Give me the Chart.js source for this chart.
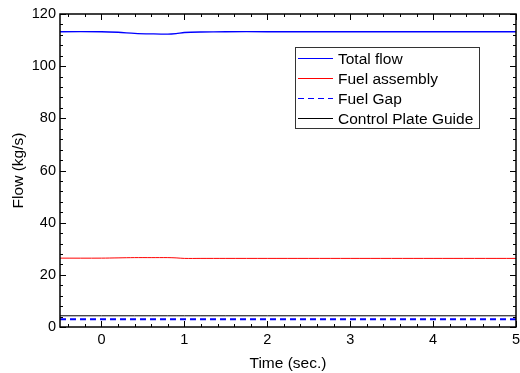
<!DOCTYPE html>
<html>
<head>
<meta charset="utf-8">
<script src="https://cdn.jsdelivr.net/npm/chart.js@4.4.0/dist/chart.umd.min.js"></script>
<style>
  html, body { margin: 0; padding: 0; background: #fff; }
  #wrap { width: 520px; height: 373px; }
</style>
</head>
<body>
<div id="wrap"><canvas id="flowChart" width="520" height="373"></canvas></div>
<script>
// values
const time = [-0.5, 0, 0.2, 0.4, 0.6, 0.8, 0.9, 1.0, 1.2, 1.5, 2, 3, 4, 5]
const totalFlow = [113.2, 113.2, 113.0, 112.6, 112.4, 112.3, 112.5, 112.9, 113.1, 113.2, 113.2, 113.2, 113.2, 113.2]
const fuelAssembly = [26.4, 26.4, 26.5, 26.6, 26.6, 26.6, 26.5, 26.3, 26.3, 26.3, 26.3, 26.3, 26.3, 26.3]
const fuelGap = [3.0, 3.0, 3.0, 3.0, 3.0, 3.0, 3.0, 3.0, 3.0, 3.0, 3.0, 3.0, 3.0, 3.0]
const controlPlateGuide = [4.3, 4.3, 4.3, 4.3, 4.3, 4.3, 4.3, 4.3, 4.3, 4.3, 4.3, 4.3, 4.3, 4.3]
const xTickLabels = [0, 1, 2, 3, 4, 5]
const yTickLabels = [0, 20, 40, 60, 80, 100, 120]

const FONT = "'Liberation Sans', Arial, sans-serif"

function pts(ys) {
  return time.map((t, i) => ({ x: t, y: ys[i] }))
}

// ticks pointing into the plot, like the original
const inwardTicks = {
  id: 'inwardTicks',
  afterDraw(chart) {
    const { ctx, chartArea: a, scales } = chart
    ctx.save()
    ctx.strokeStyle = '#000'
    ctx.lineWidth = 1
    ctx.beginPath()
    for (let v = -0.4; v <= 5.001; v += 0.2) {
      const x = Math.round(scales.x.getPixelForValue(v)) + 0.5
      const major = Math.abs(v - Math.round(v)) < 0.01
      const len = major ? 6 : 3
      ctx.moveTo(x, a.bottom); ctx.lineTo(x, a.bottom - len)
      ctx.moveTo(x, a.top); ctx.lineTo(x, a.top + len)
    }
    for (let v = 0; v <= 120; v += 4) {
      const y = Math.round(scales.y.getPixelForValue(v)) + 0.5
      const major = v % 20 === 0
      const len = major ? 6 : 3
      ctx.moveTo(a.left, y); ctx.lineTo(a.left + len, y)
      ctx.moveTo(a.right, y); ctx.lineTo(a.right - len, y)
    }
    ctx.stroke()
    ctx.lineWidth = 1.5
    ctx.strokeRect(a.left, a.top, a.right - a.left, a.bottom - a.top)
    ctx.restore()
  }
}

// boxed legend inside the plot
const boxLegend = {
  id: 'boxLegend',
  afterDraw(chart) {
    const ctx = chart.ctx
    const left = 295, top = 47, w = 184, rowH = 20
    const sets = chart.data.datasets
    ctx.save()
    ctx.strokeStyle = '#333'
    ctx.lineWidth = 1
    ctx.strokeRect(left + 0.5, top + 0.5, w, rowH * sets.length + 1)
    ctx.font = '15.5px ' + FONT
    ctx.textBaseline = 'middle'
    sets.forEach((ds, i) => {
      const y = top + 11 + i * rowH + 0.5
      ctx.strokeStyle = ds.borderColor
      ctx.lineWidth = ds.legendWidth || 1
      ctx.setLineDash(ds.borderDash || [])
      ctx.beginPath()
      ctx.moveTo(left + 3, y); ctx.lineTo(left + 38, y)
      ctx.stroke()
      ctx.setLineDash([])
      ctx.fillStyle = '#000'
      ctx.fillText(ds.label, left + 43, y + 1)
    })
    ctx.restore()
  }
}

new Chart(document.getElementById('flowChart'), {
  type: 'line',
  data: {
    datasets: [
      { label: 'Total flow', data: pts(totalFlow), borderColor: '#0000ff', borderWidth: 1.3, tension: 0.3 },
      { label: 'Fuel assembly', data: pts(fuelAssembly), borderColor: '#ff0000', borderWidth: 1, tension: 0.3 },
      { label: 'Fuel Gap', data: pts(fuelGap), borderColor: '#0000ff', borderWidth: 2, borderDash: [6, 4], legendWidth: 1 },
      { label: 'Control Plate Guide', data: pts(controlPlateGuide), borderColor: '#000000', borderWidth: 1 }
    ]
  },
  options: {
    responsive: false,
    animation: false,
    elements: { point: { radius: 0 } },
    layout: { padding: { top: 14, right: 4, left: 0, bottom: 0 } },
    plugins: { legend: { display: false }, tooltip: { enabled: false } },
    scales: {
      x: {
        type: 'linear',
        min: -0.5,
        max: 5,
        afterBuildTicks(scale) { scale.ticks = xTickLabels.map(v => ({ value: v })) },
        afterFit(scale) {
          scale.height = 46
          scale.paddingLeft = 0
          scale.paddingRight = 0
        },
        grid: { display: false, drawTicks: false },
        border: { display: false },
        ticks: { color: '#000', font: { family: FONT, size: 14.5 }, padding: 4, maxRotation: 0 },
        title: { display: true, text: 'Time (sec.)', color: '#000', font: { family: FONT, size: 15.5 }, padding: { top: 0, bottom: 0 } }
      },
      y: {
        min: 0,
        max: 120,
        afterBuildTicks(scale) { scale.ticks = yTickLabels.map(v => ({ value: v })) },
        afterFit(scale) { scale.width = 60 },
        grid: { display: false, drawTicks: false },
        border: { display: false },
        ticks: { color: '#000', font: { family: FONT, size: 14.5 }, padding: 4 },
        title: { display: true, text: 'Flow (kg/s)', color: '#000', font: { family: FONT, size: 15.5 }, padding: { top: 9, bottom: 0 } }
      }
    }
  },
  plugins: [inwardTicks, boxLegend]
})
</script>
</body>
</html>
